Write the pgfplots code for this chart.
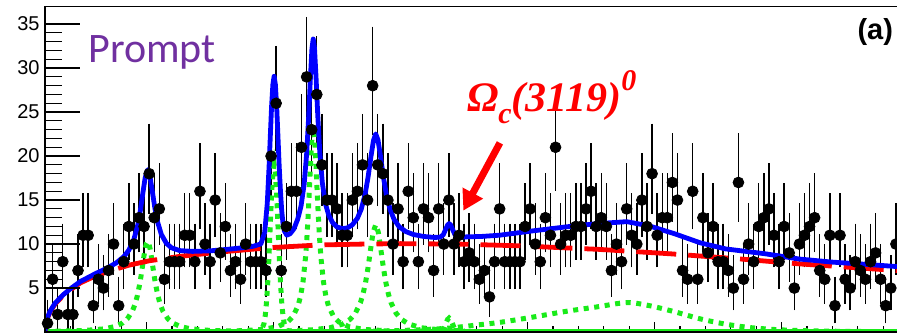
\documentclass[border=0pt]{standalone}
\usepackage{fontspec}
\setmainfont{Liberation Sans}
\newfontfamily\promptfont{Carlito}
\newfontfamily\labelfont{Liberation Serif}
\usepackage{pgfplots}
\pgfplotsset{compat=1.18}
\usepackage{pgfplotstable}
\usetikzlibrary{arrows.meta}

\definecolor{fitblue}{RGB}{0,0,255}
\definecolor{bkgred}{RGB}{255,0,0}
\definecolor{siggreen}{RGB}{25,235,25}
\definecolor{promptpurple}{RGB}{112,48,160}

% candidates per 2 MeV bin: mass, count, upper and lower Poisson error
\pgfplotstableread{
m n ep em
2961 1 2.32 0.83
2963 6 3.60 2.40
2965 2 2.66 1.32
2967 8 3.96 2.78
2969 2 2.66 1.32
2971 2 2.66 1.32
2973 7 3.78 2.60
2975 11 4.43 3.28
2977 11 4.43 3.28
2979 3 2.94 1.66
2981 6 3.60 2.40
2983 5 3.40 2.18
2985 7 3.78 2.60
2987 10 4.28 3.12
2989 3 2.94 1.66
2991 8 3.96 2.78
2993 12 4.57 3.43
2995 10 4.28 3.12
2997 13 4.71 3.57
2999 12 4.57 3.43
3001 18 5.33 4.21
3003 13 4.71 3.57
3005 14 4.84 3.71
3007 6 3.60 2.40
3009 8 3.96 2.78
3011 8 3.96 2.78
3013 8 3.96 2.78
3015 11 4.43 3.28
3017 11 4.43 3.28
3019 8 3.96 2.78
3021 16 5.09 3.97
3023 10 4.28 3.12
3025 8 3.96 2.78
3027 15 4.97 3.84
3029 9 4.12 2.96
3031 12 4.57 3.43
3033 7 3.78 2.60
3035 8 3.96 2.78
3037 6 3.60 2.40
3039 10 4.28 3.12
3041 8 3.96 2.78
3043 8 3.96 2.78
3045 8 3.96 2.78
3047 7 3.78 2.60
3049 20 5.56 4.44
3051 26 6.17 5.07
3053 7 3.78 2.60
3055 12 4.57 3.43
3057 16 5.09 3.97
3059 16 5.09 3.97
3061 21 5.66 4.56
3063 29 6.45 5.36
3065 23 5.87 4.77
3067 27 6.27 5.17
3069 19 5.44 4.33
3071 15 4.97 3.84
3073 15 4.97 3.84
3075 14 4.84 3.71
3077 11 4.43 3.28
3079 11 4.43 3.28
3081 15 4.97 3.84
3083 16 5.09 3.97
3085 19 5.44 4.33
3087 15 4.97 3.84
3089 28 6.36 5.27
3091 19 5.44 4.33
3093 18 5.33 4.21
3095 15 4.97 3.84
3097 10 4.28 3.12
3099 14 4.84 3.71
3101 8 3.96 2.78
3103 16 5.09 3.97
3105 13 4.71 3.57
3107 8 3.96 2.78
3109 14 4.84 3.71
3111 13 4.71 3.57
3113 7 3.78 2.60
3115 14 4.84 3.71
3117 10 4.28 3.12
3119 15 4.97 3.84
3121 10 4.28 3.12
3123 11 4.43 3.28
3125 8 3.96 2.78
3127 9 4.12 2.96
3129 8 3.96 2.78
3131 6 3.60 2.40
3133 7 3.78 2.60
3135 4 3.18 1.94
3137 8 3.96 2.78
3139 14 4.84 3.71
3141 8 3.96 2.78
3143 8 3.96 2.78
3145 8 3.96 2.78
3147 8 3.96 2.78
3149 12 4.57 3.43
3151 14 4.84 3.71
3153 10 4.28 3.12
3155 8 3.96 2.78
3157 13 4.71 3.57
3159 11 4.43 3.28
3161 21 5.66 4.56
3163 10 4.28 3.12
3165 11 4.43 3.28
3167 11 4.43 3.28
3169 12 4.57 3.43
3171 12 4.57 3.43
3173 14 4.84 3.71
3175 16 5.09 3.97
3177 12 4.57 3.43
3179 13 4.71 3.57
3181 12 4.57 3.43
3183 7 3.78 2.60
3185 10 4.28 3.12
3187 8 3.96 2.78
3189 14 4.84 3.71
3191 11 4.43 3.28
3193 10 4.28 3.12
3195 15 4.97 3.84
3197 12 4.57 3.43
3199 18 5.33 4.21
3201 11 4.43 3.28
3203 13 4.71 3.57
3205 13 4.71 3.57
3207 17 5.21 4.09
3209 15 4.97 3.84
3211 7 3.78 2.60
3213 6 3.60 2.40
3215 16 5.09 3.97
3217 6 3.60 2.40
3219 13 4.71 3.57
3221 9 4.12 2.96
3223 12 4.57 3.43
3225 8 3.96 2.78
3227 8 3.96 2.78
3229 7 3.78 2.60
3231 5 3.40 2.18
3233 17 5.21 4.09
3235 6 3.60 2.40
3237 10 4.28 3.12
3239 8 3.96 2.78
3241 12 4.57 3.43
3243 13 4.71 3.57
3245 14 4.84 3.71
3247 11 4.43 3.28
3249 8 3.96 2.78
3251 12 4.57 3.43
3253 9 4.12 2.96
3255 5 3.40 2.18
3257 10 4.28 3.12
3259 11 4.43 3.28
3261 12 4.57 3.43
3263 13 4.71 3.57
3265 7 3.78 2.60
3267 6 3.60 2.40
3269 11 4.43 3.28
3271 3 2.94 1.66
3273 11 4.43 3.28
3275 6 3.60 2.40
3277 5 3.40 2.18
3279 8 3.96 2.78
3281 7 3.78 2.60
3283 6 3.60 2.40
3285 8 3.96 2.78
3287 9 4.12 2.96
3289 6 3.60 2.40
3291 3 2.94 1.66
3293 5 3.40 2.18
3295 10 4.28 3.12
}\datatab

% background component
\pgfplotstableread{
m y
2960 0
2960.3 0.9
2961 1.6
2962 2.3
2964 3.2
2967 4.1
2970 4.8
2974 5.6
2980 6.4
2986 7.0
2993 7.6
3001 8.1
3013 8.6
3029 9.1
3049 9.6
3068 9.9
3085 10.0
3100 10.05
3123 10.0
3147 9.8
3178 9.4
3206 8.9
3234 8.3
3257 7.75
3280 7.3
3300 6.9
}\bkgtab

% total fit
\pgfplotstableread{
m y
2960 0.1
2960.3 0.97
2961 1.67
2962 2.38
2964 3.29
2967 4.2
2970 4.92
2974 5.76
2980 6.66
2984 7.2
2988 7.85
2991 8.56
2993 9.31
2995 10.54
2996.5 12.15
2997.5 13.74
2998.5 15.74
2999.4 17.48
3000.4 18.45
3001.4 17.56
3002.3 15.91
3003.3 14.01
3004.3 12.54
3005.8 11.1
3007.8 10.08
3009.8 9.58
3013 9.26
3018 9.17
3025 9.23
3032 9.41
3038 9.59
3042 9.75
3045 10.02
3046.5 11.35
3047.5 14.6
3048.2 18.7
3048.7 22.24
3049.2 25.63
3049.7 28.1
3050.2 29.07
3050.7 28.12
3051.2 25.7
3051.7 22.35
3052.2 18.85
3052.7 16.02
3053.2 13.79
3053.7 12.34
3054.2 11.52
3055.2 11.01
3056.5 11.18
3058 11.73
3059.5 12.84
3060.8 14.31
3062 16.72
3063 20.21
3063.8 24.44
3064.5 28.94
3065.1 32.24
3065.6 33.31
3066.1 32.28
3066.7 29.02
3067.4 24.55
3068.2 20.36
3069.2 16.93
3070.4 14.58
3071.7 13.29
3073.2 12.44
3075 11.94
3077 11.76
3079 11.83
3081 12.19
3083 12.94
3084.5 13.96
3086 15.62
3087.2 17.62
3088.3 19.89
3089.3 21.74
3090.2 22.52
3091.1 21.83
3092.1 19.96
3093.2 17.66
3094.4 15.62
3095.9 13.9
3097.4 12.82
3099.4 11.98
3102 11.43
3105 11.09
3109 10.87
3113 10.76
3115.5 10.77
3116.8 11.06
3117.8 11.71
3118.5 12.17
3119.1 12.33
3119.7 12.18
3120.4 11.7
3121.4 11.07
3122.7 10.78
3126 10.82
3132 10.87
3139 11.01
3152 11.5
3165 11.95
3177 12.31
3189 12.55
3198 12.06
3208 11.16
3218 10.14
3228 9.45
3243.5 8.9
3257 8.3
3270 7.95
3283 7.7
3300 7.35
}\totaltab

% signal components
\pgfplotstableread{
m y
2960 0.07
2975.4 0.18
2983.4 0.37
2987.4 0.62
2990.4 1.01
2992.4 1.50
2994.4 2.39
2995.4 3.13
2996.4 4.17
2997.4 5.64
2997.9 6.54
2998.4 7.53
2998.9 8.54
2999.4 9.43
2999.9 10.07
3000.4 10.3
3000.9 10.07
3001.4 9.43
3001.9 8.54
3002.4 7.53
3002.9 6.54
3003.4 5.64
3004.4 4.17
3005.4 3.13
3006.4 2.39
3008.4 1.50
3010.4 1.01
3013.4 0.62
3017.4 0.37
3025.4 0.18
3040.4 0.07
}\sigA

\pgfplotstableread{
m y
3038.2 0.02
3042.2 0.04
3044.2 0.09
3045.2 0.24
3046.2 0.94
3046.7 1.85
3047.2 3.37
3047.7 5.67
3048.2 8.73
3048.7 12.25
3049.2 15.62
3049.7 18.08
3050.2 19.0
3050.7 18.08
3051.2 15.62
3051.7 12.25
3052.2 8.73
3052.7 5.67
3053.2 3.37
3053.7 1.85
3054.2 0.94
3055.2 0.24
3056.2 0.09
3058.2 0.04
3062.2 0.02
}\sigB

\pgfplotstableread{
m y
3035.6 0.14
3045.6 0.30
3051.6 0.61
3055.6 1.17
3057.6 1.77
3059.6 2.97
3060.6 4.05
3061.6 5.76
3062.6 8.59
3063.1 10.64
3063.6 13.21
3064.1 16.28
3064.6 19.51
3065.1 22.16
3065.6 23.2
3066.1 22.16
3066.6 19.51
3067.1 16.28
3067.6 13.21
3068.1 10.64
3068.6 8.59
3069.6 5.76
3070.6 4.05
3071.6 2.97
3073.6 1.77
3075.6 1.17
3079.6 0.61
3085.6 0.30
3095.6 0.14
}\sigC

\pgfplotstableread{
m y
3055.2 0.13
3065.2 0.26
3072.2 0.49
3077.2 0.91
3080.2 1.47
3082.2 2.15
3084.2 3.36
3085.2 4.32
3086.2 5.62
3087.2 7.36
3088.2 9.44
3089.2 11.37
3090.2 12.2
3091.2 11.37
3092.2 9.44
3093.2 7.36
3094.2 5.62
3095.2 4.32
3096.2 3.36
3098.2 2.15
3100.2 1.47
3103.2 0.91
3108.2 0.49
3115.2 0.26
3125.2 0.13
}\sigD

\pgfplotstableread{
m y
3112.1 0.02
3115.6 0.04
3116.5 0.22
3117.1 0.49
3117.8 0.97
3118.5 1.44
3119.1 1.6
3119.7 1.44
3120.4 0.97
3121.1 0.49
3121.7 0.22
3122.6 0.04
3126.1 0.02
}\sigE

\pgfplotstableread{
m y
3060 0.01
3080 0.06
3090 0.1
3100 0.18
3110 0.3
3119 0.45
3130 0.8
3139 1.1
3152 1.7
3165 2.35
3177 2.85
3189 3.35
3198 3.0
3208 2.3
3218 1.5
3228 0.9
3238 0.5
3250 0.25
3265 0.12
3285 0.06
3300 0.04
}\sigF

\pgfplotsset{
  frame/.style={
    scale only axis,
    width=431.8pt, height=162.8pt,
    xmin=2960, xmax=3300, ymin=0, ymax=37,
    axis line style={line width=0.65pt},
    tick align=inside,
    every tick/.style={black, line width=0.6pt},
    /pgf/number format/assume math mode=true,
    tick label style={font=\fontsize{10}{12}\selectfont},
  },
  sig/.style={siggreen, line width=2.5pt, dash pattern=on 2.5pt off 2.8pt},
}

\begin{document}
\begin{tikzpicture}
\begin{axis}[frame,
  ytick=\empty,
  xtick={3000,3050,...,3300},
  minor xtick={2960,2970,...,3300},
  xticklabels={},
  xtick pos=left,
  major tick length=5pt, minor tick length=3pt,
]
  % data
  \addplot[only marks, mark=*, mark size=2.7pt, black,
    mark options={fill=black, draw=black},
    error bars/.cd, y dir=both, y explicit,
    error bar style={line width=0.7pt, black},
    error mark options={mark size=1.6pt, line width=0.7pt, black}]
    table[x=m, y=n, y error plus=ep, y error minus=em] {\datatab};

  % signal components
  \addplot[siggreen, line width=2.5pt, forget plot] coordinates {(2960,0.12) (3300,0.12)};
  \addplot[sig] table[x=m, y=y] {\sigA};
  \addplot[sig] table[x=m, y=y] {\sigB};
  \addplot[sig] table[x=m, y=y] {\sigC};
  \addplot[sig] table[x=m, y=y] {\sigD};
  \addplot[sig] table[x=m, y=y] {\sigE};
  \addplot[sig, smooth] table[x=m, y=y] {\sigF};

  % background
  \addplot[bkgred, line width=2.4pt, dash pattern=on 20pt off 6pt] table[x=m, y=y] {\bkgtab};

  % total fit
  \addplot[fitblue, line width=2.4pt, line join=round] table[x=m, y=y] {\totaltab};

  \node[anchor=base west, inner sep=0pt, text=promptpurple,
    font=\promptfont\fontsize{21}{24}\selectfont] at (axis cs:2976.9,30.6) {Prompt};
  \node[anchor=east, inner sep=0pt,
    font=\bfseries\fontsize{14.5}{16}\selectfont] at (axis cs:3294,34.1) {(a)};
  \node[anchor=base west, inner sep=0pt, text=bkgred,
    font=\labelfont\bfseries\itshape\fontsize{21}{24}\selectfont] at (axis cs:3126,25.1)
    {Ω\raisebox{-0.3em}{\fontsize{15}{15}\selectfont c}(3119)\raisebox{0.5em}{\fontsize{15}{15}\selectfont 0}};
  \draw[bkgred, line width=3.5pt, -{Triangle[length=10pt, width=11pt]}]
    (axis cs:3139.1,21.5) -- (axis cs:3124.7,13.8);
\end{axis}
\begin{axis}[frame,
  xtick=\empty,
  ytick={5,10,...,35},
  minor y tick num=4,
  ytick pos=left,
  major tick length=17.5pt, minor tick length=8.5pt,
  yticklabel style={inner sep=2.5pt},
]
\end{axis}
\pgfresetboundingbox
\path[use as bounding box] ([xshift=-22.5pt]current axis.south west)
  rectangle ([xshift=-5.8pt, yshift=3.25pt]current axis.north east);
\end{tikzpicture}
\end{document}
